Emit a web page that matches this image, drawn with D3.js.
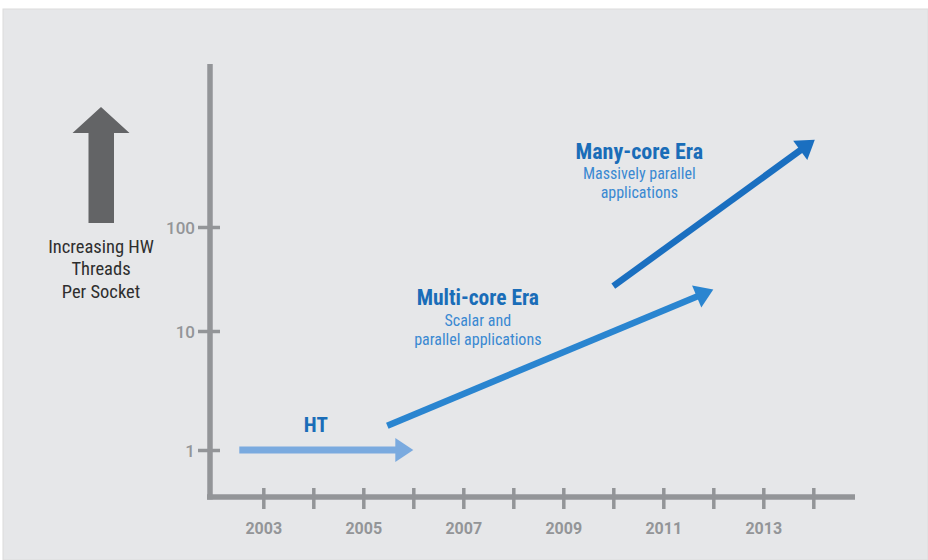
<!DOCTYPE html>
<html>
<head>
<meta charset="utf-8">
<script src="https://cdn.jsdelivr.net/npm/d3@7"></script>
<style>
  body { margin: 0; background: #fff; }
  text { font-family: "Roboto Condensed", Roboto, "Liberation Sans Narrow", sans-serif; }
  .tick text { font-family: Roboto, sans-serif; }
</style>
</head>
<body>
<svg id="chart" width="928" height="560"></svg>
<script>
// axis ticks
const yearTicks = [2003, 2004, 2005, 2006, 2007, 2008, 2009, 2010, 2011, 2012, 2013, 2014];
const yearLabels = ["2003", "2005", "2007", "2009", "2011", "2013"];
const threadTicks = [1, 10, 100];

// era arrows (year, threads per socket)
const eraNames = ["HT", "Multi-core Era", "Many-core Era"];
const eraSubtitles = [[], ["Scalar and", "parallel applications"], ["Massively parallel", "applications"]];
const eraStartYear = [2002.52, 2005.48, 2010.0];
const eraStartThreads = [1, 1.6, 27];
const eraEndYear = [2006.0, 2012.0, 2014.03];
const eraEndThreads = [1, 25, 690];
const eraLabelYear = [2004.05, 2007.29, 2010.52];
const eraLabelThreads = [1.42, 17.6, 450];

const eraColors = ["#7aaadf", "#2a85d0", "#1a6fc0"];

const svg = d3.select("#chart");

svg.append("rect")
    .attr("x", 3).attr("y", 9)
    .attr("width", 925).attr("height", 551)
    .attr("fill", "#e6e7e9")
    .attr("stroke", "#dcdcdc")
    .attr("stroke-width", 1);

const x = d3.scaleLinear()
    .domain([2003, 2014])
    .range([263.3, 813.3]);

// the original spacing between decades is not even, so piecewise log
const y = d3.scaleLog()
    .domain([1, 10, 100])
    .range([450, 331, 227]);

const axisColor = "#939598";
const axisX = 210, axisY = 497;

// y axis
const gy = svg.append("g")
    .attr("transform", "translate(" + axisX + ",0)")
    .call(d3.axisLeft(y).tickValues(threadTicks).tickFormat(d3.format("d")).tickSize(12).tickPadding(3));
gy.select(".domain").remove();
gy.selectAll(".tick line")
    .attr("x2", -12).attr("x1", 10)
    .attr("stroke", axisColor).attr("stroke-width", 3.5);
gy.selectAll(".tick text")
    .attr("fill", axisColor)
    .attr("font-size", 17)
    .attr("font-weight", 500)
    .attr("dy", "0.38em");

// x axis
const gx = svg.append("g")
    .attr("transform", "translate(0," + axisY + ")")
    .call(d3.axisBottom(x).tickValues(yearTicks)
      .tickFormat(d => yearLabels.includes(String(d)) ? d : "")
      .tickSize(12).tickPadding(14));
gx.select(".domain").remove();
gx.selectAll(".tick line")
    .attr("y1", -9).attr("y2", 12)
    .attr("stroke", axisColor).attr("stroke-width", 3.5);
gx.selectAll(".tick text")
    .attr("fill", axisColor)
    .attr("font-size", 16)
    .attr("font-weight", "bold");

svg.append("line")
    .attr("x1", axisX).attr("x2", axisX)
    .attr("y1", 64).attr("y2", axisY + 2.5)
    .attr("stroke", axisColor).attr("stroke-width", 5.5);
svg.append("line")
    .attr("x1", axisX - 3).attr("x2", 855)
    .attr("y1", axisY).attr("y2", axisY)
    .attr("stroke", axisColor).attr("stroke-width", 5.5)
    .attr("stroke-linecap", "butt");

// big gray arrow + label on the left
svg.append("path")
    .attr("d", "M101,107 L129.5,133 L114,133 L114,223 L88.5,223 L88.5,133 L72.5,133 Z")
    .attr("fill", "#636466");
svg.append("text")
    .attr("x", 101).attr("y", 253)
    .attr("text-anchor", "middle")
    .attr("font-size", 18.5)
    .attr("fill", "#2e2e2e")
    .selectAll("tspan")
    .data(["Increasing HW", "Threads", "Per Socket"])
    .join("tspan")
      .attr("x", 101)
      .attr("dy", (d, i) => i ? 22.3 : 0)
      .text(d => d);

// era arrows
const headLen = 18, headHalf = 12;
const titleSize = [21, 21.5, 22];
eraNames.forEach((name, i) => {
  const x0 = x(eraStartYear[i]), y0 = y(eraStartThreads[i]);
  const x1 = x(eraEndYear[i]), y1 = y(eraEndThreads[i]);
  const ang = Math.atan2(y1 - y0, x1 - x0);
  const ux = Math.cos(ang), uy = Math.sin(ang);
  const bx = x1 - ux * headLen, by = y1 - uy * headLen;
  svg.append("line")
      .attr("x1", x0).attr("y1", y0)
      .attr("x2", bx + ux).attr("y2", by + uy)
      .attr("stroke", eraColors[i])
      .attr("stroke-width", i ? 6.5 : 7);
  svg.append("path")
      .attr("d", "M" + x1 + "," + y1 +
        "L" + (bx - uy * headHalf) + "," + (by + ux * headHalf) +
        "L" + (bx + uy * headHalf) + "," + (by - ux * headHalf) + "Z")
      .attr("fill", eraColors[i]);

  const lx = x(eraLabelYear[i]), ly = y(eraLabelThreads[i]);
  svg.append("text")
      .attr("x", lx).attr("y", ly)
      .attr("text-anchor", "middle")
      .attr("font-size", titleSize[i])
      .attr("font-weight", "bold")
      .attr("fill", "#1a6db8")
      .text(name);
  eraSubtitles[i].forEach((s, j) => {
    svg.append("text")
        .attr("x", lx).attr("y", ly + 20.4 + j * 19)
        .attr("text-anchor", "middle")
        .attr("font-size", 16)
        .attr("fill", "#3a89d2")
        .text(s);
  });
});
</script>
</body>
</html>
